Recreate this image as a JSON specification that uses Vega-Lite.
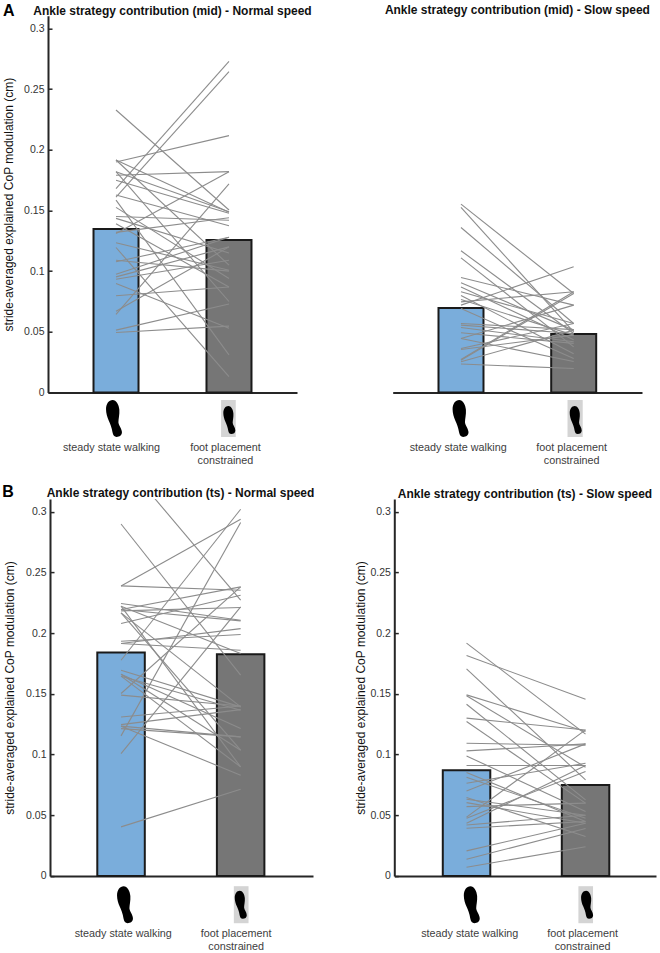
{"$schema":"https://vega.github.io/schema/vega-lite/v6.json","background":"white","padding":{"left":2,"top":2.7,"right":2,"bottom":2},"autosize":{"type":"pad"},"config":{"view":{"stroke":null},"font":"Liberation Sans","axis":{"grid":false,"domainColor":"#262626","domainWidth":2,"tickColor":"#262626","tickWidth":1.5,"tickSize":-4,"labelFont":"Liberation Sans","labelColor":"#333333","labelFontSize":10.5,"titleFont":"Liberation Sans","titleFontWeight":"normal","titleColor":"#111111","titleFontSize":12},"axisX":{"labelFontSize":10.8,"labelColor":"#404040"},"axisY":{"labelPadding":8},"title":{"font":"Liberation Sans","fontSize":12,"fontWeight":"bold","color":"#111111","anchor":"middle","offset":3}},
"datasets":{
"al":[{"s":1,"c":1,"v":0.2328},{"s":1,"c":2,"v":0.1504},{"s":2,"c":1,"v":0.168},{"s":2,"c":2,"v":0.273},{"s":3,"c":1,"v":0.161},{"s":3,"c":2,"v":0.2644},{"s":4,"c":1,"v":0.19},{"s":4,"c":2,"v":0.2117},{"s":5,"c":1,"v":0.179},{"s":5,"c":2,"v":0.182},{"s":6,"c":1,"v":0.1916},{"s":6,"c":2,"v":0.105},{"s":7,"c":1,"v":0.182},{"s":7,"c":2,"v":0.149},{"s":8,"c":1,"v":0.175},{"s":8,"c":2,"v":0.1477},{"s":9,"c":1,"v":0.1628},{"s":9,"c":2,"v":0.1375},{"s":10,"c":1,"v":0.1526},{"s":10,"c":2,"v":0.094},{"s":11,"c":1,"v":0.145},{"s":11,"c":2,"v":0.142},{"s":12,"c":1,"v":0.1435},{"s":12,"c":2,"v":0.115},{"s":13,"c":1,"v":0.182},{"s":13,"c":2,"v":0.075},{"s":14,"c":1,"v":0.139},{"s":14,"c":2,"v":0.087},{"s":15,"c":1,"v":0.131},{"s":15,"c":2,"v":0.182},{"s":16,"c":1,"v":0.1585},{"s":16,"c":2,"v":0.031},{"s":17,"c":1,"v":0.1195},{"s":17,"c":2,"v":0.013},{"s":18,"c":1,"v":0.1234},{"s":18,"c":2,"v":0.1008},{"s":19,"c":1,"v":0.0643},{"s":19,"c":2,"v":0.172},{"s":20,"c":1,"v":0.067},{"s":20,"c":2,"v":0.12},{"s":21,"c":1,"v":0.0514},{"s":21,"c":2,"v":0.073},{"s":22,"c":1,"v":0.0495},{"s":22,"c":2,"v":0.0547},{"s":23,"c":1,"v":0.0797},{"s":23,"c":2,"v":0.087},{"s":24,"c":1,"v":0.0898},{"s":24,"c":2,"v":0.053},{"s":25,"c":1,"v":0.0975},{"s":25,"c":2,"v":0.128},{"s":26,"c":1,"v":0.0953},{"s":26,"c":2,"v":0.12},{"s":27,"c":1,"v":0.0934},{"s":27,"c":2,"v":0.109},{"s":28,"c":1,"v":0.109},{"s":28,"c":2,"v":0.1},{"s":29,"c":1,"v":0.1077},{"s":29,"c":2,"v":0.128},{"s":30,"c":1,"v":0.132},{"s":30,"c":2,"v":0.144},{"s":31,"c":1,"v":0.1916},{"s":31,"c":2,"v":0.1485}],
"ar":[{"s":1,"c":1,"v":0.1552},{"s":1,"c":2,"v":0.0816},{"s":2,"c":1,"v":0.1525},{"s":2,"c":2,"v":0.05},{"s":3,"c":1,"v":0.136},{"s":3,"c":2,"v":0.0569},{"s":4,"c":1,"v":0.1168},{"s":4,"c":2,"v":0.0486},{"s":5,"c":1,"v":0.111},{"s":5,"c":2,"v":0.0376},{"s":6,"c":1,"v":0.0948},{"s":6,"c":2,"v":0.072},{"s":7,"c":1,"v":0.0904},{"s":7,"c":2,"v":0.0514},{"s":8,"c":1,"v":0.087},{"s":8,"c":2,"v":0.0435},{"s":9,"c":1,"v":0.083},{"s":9,"c":2,"v":0.0569},{"s":10,"c":1,"v":0.08},{"s":10,"c":2,"v":0.032},{"s":11,"c":1,"v":0.0766},{"s":11,"c":2,"v":0.0473},{"s":12,"c":1,"v":0.0747},{"s":12,"c":2,"v":0.083},{"s":13,"c":1,"v":0.072},{"s":13,"c":2,"v":0.1036},{"s":14,"c":1,"v":0.0692},{"s":14,"c":2,"v":0.028},{"s":15,"c":1,"v":0.0569},{"s":15,"c":2,"v":0.0518},{"s":16,"c":1,"v":0.0555},{"s":16,"c":2,"v":0.0486},{"s":17,"c":1,"v":0.0536},{"s":17,"c":2,"v":0.0418},{"s":18,"c":1,"v":0.0492},{"s":18,"c":2,"v":0.0405},{"s":19,"c":1,"v":0.0445},{"s":19,"c":2,"v":0.0255},{"s":20,"c":1,"v":0.0363},{"s":20,"c":2,"v":0.0569},{"s":21,"c":1,"v":0.0354},{"s":21,"c":2,"v":0.0473},{"s":22,"c":1,"v":0.0272},{"s":22,"c":2,"v":0.083},{"s":23,"c":1,"v":0.0253},{"s":23,"c":2,"v":0.0514},{"s":24,"c":1,"v":0.0235},{"s":24,"c":2,"v":0.0198},{"s":25,"c":1,"v":0.0266},{"s":25,"c":2,"v":0.0816},{"s":26,"c":1,"v":0.0445},{"s":26,"c":2,"v":0.072}],
"bl":[{"s":1,"c":1,"v":0.344},{"s":1,"c":2,"v":0.2272},{"s":2,"c":1,"v":0.29},{"s":2,"c":2,"v":0.1654},{"s":3,"c":1,"v":0.239},{"s":3,"c":2,"v":0.294},{"s":4,"c":1,"v":0.239},{"s":4,"c":2,"v":0.2354},{"s":5,"c":1,"v":0.2245},{"s":5,"c":2,"v":0.2107},{"s":6,"c":1,"v":0.2223},{"s":6,"c":2,"v":0.1832},{"s":7,"c":1,"v":0.2195},{"s":7,"c":2,"v":0.2382},{"s":8,"c":1,"v":0.2184},{"s":8,"c":2,"v":0.2212},{"s":9,"c":1,"v":0.2168},{"s":9,"c":2,"v":0.1393},{"s":10,"c":1,"v":0.208},{"s":10,"c":2,"v":0.2313},{"s":11,"c":1,"v":0.1934},{"s":11,"c":2,"v":0.1989},{"s":12,"c":1,"v":0.1915},{"s":12,"c":2,"v":0.2038},{"s":13,"c":1,"v":0.1777},{"s":13,"c":2,"v":0.3022},{"s":14,"c":1,"v":0.1695},{"s":14,"c":2,"v":0.1393},{"s":15,"c":1,"v":0.1662},{"s":15,"c":2,"v":0.1214},{"s":16,"c":1,"v":0.1646},{"s":16,"c":2,"v":0.1365},{"s":17,"c":1,"v":0.1503},{"s":17,"c":2,"v":0.2382},{"s":18,"c":1,"v":0.149},{"s":18,"c":2,"v":0.14},{"s":19,"c":1,"v":0.1154},{"s":19,"c":2,"v":0.2912},{"s":20,"c":1,"v":0.1008},{"s":20,"c":2,"v":0.2217},{"s":21,"c":1,"v":0.131},{"s":21,"c":2,"v":0.14},{"s":22,"c":1,"v":0.1247},{"s":22,"c":2,"v":0.137},{"s":23,"c":1,"v":0.1234},{"s":23,"c":2,"v":0.1146},{"s":24,"c":1,"v":0.1214},{"s":24,"c":2,"v":0.1146},{"s":25,"c":1,"v":0.1234},{"s":25,"c":2,"v":0.083},{"s":26,"c":1,"v":0.0404},{"s":26,"c":2,"v":0.0714},{"s":27,"c":1,"v":0.2168},{"s":27,"c":2,"v":0.1036},{"s":28,"c":1,"v":0.2223},{"s":28,"c":2,"v":0.0898},{"s":29,"c":1,"v":0.1662},{"s":29,"c":2,"v":0.1036},{"s":30,"c":1,"v":0.1646},{"s":30,"c":2,"v":0.0898},{"s":31,"c":1,"v":0.2195},{"s":31,"c":2,"v":0.2102},{"s":32,"c":1,"v":0.1915},{"s":32,"c":2,"v":0.186}],
"br":[{"s":1,"c":1,"v":0.1918},{"s":1,"c":2,"v":0.1168},{"s":2,"c":1,"v":0.1816},{"s":2,"c":2,"v":0.1456},{"s":3,"c":1,"v":0.1706},{"s":3,"c":2,"v":0.0791},{"s":4,"c":1,"v":0.1492},{"s":4,"c":2,"v":0.119},{"s":5,"c":1,"v":0.1484},{"s":5,"c":2,"v":0.0896},{"s":6,"c":1,"v":0.1415},{"s":6,"c":2,"v":0.0626},{"s":7,"c":1,"v":0.13},{"s":7,"c":2,"v":0.1203},{"s":8,"c":1,"v":0.1272},{"s":8,"c":2,"v":0.06},{"s":9,"c":1,"v":0.1093},{"s":9,"c":2,"v":0.1077},{"s":10,"c":1,"v":0.103},{"s":10,"c":2,"v":0.1088},{"s":11,"c":1,"v":0.0989},{"s":11,"c":2,"v":0.053},{"s":12,"c":1,"v":0.091},{"s":12,"c":2,"v":0.091},{"s":13,"c":1,"v":0.0852},{"s":13,"c":2,"v":0.0448},{"s":14,"c":1,"v":0.0813},{"s":14,"c":2,"v":0.0475},{"s":15,"c":1,"v":0.0764},{"s":15,"c":2,"v":0.0929},{"s":16,"c":1,"v":0.07},{"s":16,"c":2,"v":0.1088},{"s":17,"c":1,"v":0.0646},{"s":17,"c":2,"v":0.0324},{"s":18,"c":1,"v":0.0632},{"s":18,"c":2,"v":0.05},{"s":19,"c":1,"v":0.0604},{"s":19,"c":2,"v":0.0434},{"s":20,"c":1,"v":0.0571},{"s":20,"c":2,"v":0.06},{"s":21,"c":1,"v":0.0484},{"s":21,"c":2,"v":0.1203},{"s":22,"c":1,"v":0.0475},{"s":22,"c":2,"v":0.086},{"s":23,"c":1,"v":0.0434},{"s":23,"c":2,"v":0.091},{"s":24,"c":1,"v":0.042},{"s":24,"c":2,"v":0.05},{"s":25,"c":1,"v":0.0393},{"s":25,"c":2,"v":0.0448},{"s":26,"c":1,"v":0.0206},{"s":26,"c":2,"v":0.0434},{"s":27,"c":1,"v":0.0137},{"s":27,"c":2,"v":0.039},{"s":28,"c":1,"v":0.0071},{"s":28,"c":2,"v":0.024}]
},
"columns":2,"bounds":"flush","align":"all","spacing":{"row":106.4,"column":79},
"concat":[
{"title":{"text":"Ankle strategy contribution (mid) - Normal speed","dx":-8,"dy":18.3},"width":265,"height":376.8,
"layer":[
{"encoding":{"x":{"field":"c","type":"quantitative","scale":{"domain":[0.398,2.602],"range":[0,249],"nice":false,"zero":false,"padding":0},"axis":{"values":[1,2],"title":null,"labelPadding":53.5,"labelExpr":"datum.value==1?'steady state walking':['foot placement','constrained']","labelOffset":{"condition":{"test":"datum.value==1","value":-5},"value":-4}}},"y":{"field":"v","type":"quantitative","scale":{"domain":[0,0.31055],"nice":false,"zero":false},"axis":{"values":[0,0.05,0.1,0.15,0.2,0.25,0.3],"title":"stride-averaged explained CoP modulation (cm)","labelExpr":"datum.value==0?'0':format(datum.value,'~g')","titlePadding":8.5}}},
"layer":[
{"data":{"values":[{"c":1,"v":0.1347,"g":"steady"},{"c":2,"v":0.1257,"g":"fp"}]},"mark":{"type":"bar","width":45,"stroke":"#1a1a1a","strokeWidth":2},"encoding":{"color":{"field":"g","type":"nominal","scale":{"domain":["steady","fp"],"range":["#7aaddb","#767676"]},"legend":null}}},
{"data":{"name":"al"},"mark":{"type":"line","color":"#8c8c8c","strokeWidth":1.1,"clip":true},"encoding":{"detail":{"field":"s"}}}
]},
{"data":{"values":[{"g":"box"}]},"mark":{"type":"rect","fill":"#d4d4d4"},"encoding":{"x":{"datum":1.93,"type":"quantitative"},"x2":{"datum":2.06},"y":{"datum":-0.0062,"type":"quantitative"},"y2":{"datum":-0.0367}}},
{"data":{"values":[{"g":"foot"}]},"mark":{"type":"point","filled":true,"opacity":1,"color":"#000000","size":1369,"shape":"M-.07,-1 C.12,-1 .27,-.75 .29,-.47 C.31,-.2 .24,.02 .24,.2 C.24,.35 .43,.55 .43,.75 C.43,.92 .3,1 .14,1 C.02,1 -.05,.92 -.08,.75 C-.12,.5 -.2,.3 -.28,.12 C-.36,-.05 -.43,-.3 -.43,-.5 C-.43,-.8 -.28,-1 -.07,-1 Z"},"encoding":{"x":{"datum":0.982,"type":"quantitative"},"y":{"datum":-0.0214,"type":"quantitative"}}},
{"data":{"values":[{"g":"foot"}]},"mark":{"type":"point","filled":true,"opacity":1,"color":"#000000","size":784,"shape":"M-.07,-1 C.12,-1 .27,-.75 .29,-.47 C.31,-.2 .24,.02 .24,.2 C.24,.35 .43,.55 .43,.75 C.43,.92 .3,1 .14,1 C.02,1 -.05,.92 -.08,.75 C-.12,.5 -.2,.3 -.28,.12 C-.36,-.05 -.43,-.3 -.43,-.5 C-.43,-.8 -.28,-1 -.07,-1 Z"},"encoding":{"x":{"datum":2.003,"type":"quantitative"},"y":{"datum":-0.0227,"type":"quantitative"}}},
{"data":{"values":[{"t":"A"}]},"mark":{"type":"text","align":"left","baseline":"alphabetic","font":"Liberation Sans","fontWeight":"bold","fontSize":16,"color":"#000000"},"encoding":{"text":{"field":"t"},"x":{"datum":0,"type":"quantitative"},"y":{"datum":0.3103,"type":"quantitative"}}}
]},
{"title":{"text":"Ankle strategy contribution (mid) - Slow speed","dx":-6.6,"dy":4.3},"width":264,"height":376.8,
"layer":[
{"encoding":{"x":{"field":"c","type":"quantitative","scale":{"domain":[0.394,2.606],"range":[0.7,250],"nice":false,"zero":false,"padding":0},"axis":{"values":[1,2],"title":null,"labelPadding":53.5,"labelExpr":"datum.value==1?'steady state walking':['foot placement','constrained']","labelOffset":{"condition":{"test":"datum.value==1","value":-3.3},"value":-2.5}}},"y":{"field":"v","type":"quantitative","scale":{"domain":[0,0.31055],"nice":false,"zero":false},"axis":null}},
"layer":[
{"data":{"values":[{"c":1,"v":0.0697,"g":"steady"},{"c":2,"v":0.0482,"g":"fp"}]},"mark":{"type":"bar","width":45,"stroke":"#1a1a1a","strokeWidth":2},"encoding":{"color":{"field":"g","type":"nominal","scale":{"domain":["steady","fp"],"range":["#7aaddb","#767676"]},"legend":null}}},
{"data":{"name":"ar"},"mark":{"type":"line","color":"#8c8c8c","strokeWidth":1.1,"clip":true},"encoding":{"detail":{"field":"s"}}}
]},
{"data":{"values":[{"g":"box"}]},"mark":{"type":"rect","fill":"#d4d4d4"},"encoding":{"x":{"datum":1.945,"type":"quantitative"},"x2":{"datum":2.08},"y":{"datum":-0.0062,"type":"quantitative","axis":null},"y2":{"datum":-0.0367}}},
{"data":{"values":[{"g":"foot"}]},"mark":{"type":"point","filled":true,"opacity":1,"color":"#000000","size":1369,"shape":"M-.07,-1 C.12,-1 .27,-.75 .29,-.47 C.31,-.2 .24,.02 .24,.2 C.24,.35 .43,.55 .43,.75 C.43,.92 .3,1 .14,1 C.02,1 -.05,.92 -.08,.75 C-.12,.5 -.2,.3 -.28,.12 C-.36,-.05 -.43,-.3 -.43,-.5 C-.43,-.8 -.28,-1 -.07,-1 Z"},"encoding":{"x":{"datum":0.996,"type":"quantitative"},"y":{"datum":-0.0214,"type":"quantitative","axis":null}}},
{"data":{"values":[{"g":"foot"}]},"mark":{"type":"point","filled":true,"opacity":1,"color":"#000000","size":784,"shape":"M-.07,-1 C.12,-1 .27,-.75 .29,-.47 C.31,-.2 .24,.02 .24,.2 C.24,.35 .43,.55 .43,.75 C.43,.92 .3,1 .14,1 C.02,1 -.05,.92 -.08,.75 C-.12,.5 -.2,.3 -.28,.12 C-.36,-.05 -.43,-.3 -.43,-.5 C-.43,-.8 -.28,-1 -.07,-1 Z"},"encoding":{"x":{"datum":2.018,"type":"quantitative"},"y":{"datum":-0.0227,"type":"quantitative","axis":null}}}
]},
{"title":{"text":"Ankle strategy contribution (ts) - Normal speed","dx":0,"dy":18.8},"width":265,"height":376.8,
"layer":[
{"encoding":{"x":{"field":"c","type":"quantitative","scale":{"domain":[0.406,2.605],"range":[2,265],"nice":false,"zero":false,"padding":0},"axis":{"values":[1,2],"title":null,"labelPadding":55.5,"labelExpr":"datum.value==1?'steady state walking':['foot placement','constrained']","labelOffset":{"condition":{"test":"datum.value==1","value":1.7},"value":-5}}},"y":{"field":"v","type":"quantitative","scale":{"domain":[0,0.31055],"nice":false,"zero":false},"axis":{"values":[0,0.05,0.1,0.15,0.2,0.25,0.3],"offset":-2,"title":"stride-averaged explained CoP modulation (cm)","labelExpr":"datum.value==0?'0':format(datum.value,'~g')","titlePadding":9}}},
"layer":[
{"data":{"values":[{"c":1,"v":0.1841,"g":"steady"},{"c":2,"v":0.1826,"g":"fp"}]},"mark":{"type":"bar","width":47.5,"stroke":"#1a1a1a","strokeWidth":2},"encoding":{"color":{"field":"g","type":"nominal","scale":{"domain":["steady","fp"],"range":["#7aaddb","#767676"]},"legend":null}}},
{"data":{"name":"bl"},"mark":{"type":"line","color":"#8c8c8c","strokeWidth":1.1,"clip":true},"encoding":{"detail":{"field":"s"}}}
]},
{"data":{"values":[{"g":"box"}]},"mark":{"type":"rect","fill":"#d4d4d4"},"encoding":{"x":{"datum":1.943,"type":"quantitative"},"x2":{"datum":2.066},"y":{"datum":-0.0085,"type":"quantitative"},"y2":{"datum":-0.039}}},
{"data":{"values":[{"g":"foot"}]},"mark":{"type":"point","filled":true,"opacity":1,"color":"#000000","size":1369,"shape":"M-.07,-1 C.12,-1 .27,-.75 .29,-.47 C.31,-.2 .24,.02 .24,.2 C.24,.35 .43,.55 .43,.75 C.43,.92 .3,1 .14,1 C.02,1 -.05,.92 -.08,.75 C-.12,.5 -.2,.3 -.28,.12 C-.36,-.05 -.43,-.3 -.43,-.5 C-.43,-.8 -.28,-1 -.07,-1 Z"},"encoding":{"x":{"datum":1.033,"type":"quantitative"},"y":{"datum":-0.0237,"type":"quantitative"}}},
{"data":{"values":[{"g":"foot"}]},"mark":{"type":"point","filled":true,"opacity":1,"color":"#000000","size":784,"shape":"M-.07,-1 C.12,-1 .27,-.75 .29,-.47 C.31,-.2 .24,.02 .24,.2 C.24,.35 .43,.55 .43,.75 C.43,.92 .3,1 .14,1 C.02,1 -.05,.92 -.08,.75 C-.12,.5 -.2,.3 -.28,.12 C-.36,-.05 -.43,-.3 -.43,-.5 C-.43,-.8 -.28,-1 -.07,-1 Z"},"encoding":{"x":{"datum":2.001,"type":"quantitative"},"y":{"datum":-0.0237,"type":"quantitative"}}},
{"data":{"values":[{"t":"B"}]},"mark":{"type":"text","align":"left","baseline":"alphabetic","font":"Liberation Sans","fontWeight":"bold","fontSize":16,"color":"#000000"},"encoding":{"text":{"field":"t"},"x":{"datum":0.007,"type":"quantitative"},"y":{"datum":0.312,"type":"quantitative"}}}
]},
{"title":{"text":"Ankle strategy contribution (ts) - Slow speed","dx":1,"dy":4.8},"width":264,"height":376.8,
"layer":[
{"encoding":{"x":{"field":"c","type":"quantitative","scale":{"domain":[0.393,2.592],"range":[2.3,264],"nice":false,"zero":false,"padding":0},"axis":{"values":[1,2],"title":null,"labelPadding":55.5,"labelExpr":"datum.value==1?'steady state walking':['foot placement','constrained']","labelOffset":{"condition":{"test":"datum.value==1","value":2.7},"value":-3.5}}},"y":{"field":"v","type":"quantitative","scale":{"domain":[0,0.31055],"nice":false,"zero":false},"axis":{"values":[0,0.05,0.1,0.15,0.2,0.25,0.3],"offset":-2.3,"title":"stride-averaged explained CoP modulation (cm)","labelExpr":"datum.value==0?'0':format(datum.value,'~g')","titlePadding":2.5}}},
"layer":[
{"data":{"values":[{"c":1,"v":0.0871,"g":"steady"},{"c":2,"v":0.075,"g":"fp"}]},"mark":{"type":"bar","width":47.5,"stroke":"#1a1a1a","strokeWidth":2},"encoding":{"color":{"field":"g","type":"nominal","scale":{"domain":["steady","fp"],"range":["#7aaddb","#767676"]},"legend":null}}},
{"data":{"name":"br"},"mark":{"type":"line","color":"#8c8c8c","strokeWidth":1.1,"clip":true},"encoding":{"detail":{"field":"s"}}}
]},
{"data":{"values":[{"g":"box"}]},"mark":{"type":"rect","fill":"#d4d4d4"},"encoding":{"x":{"datum":1.94,"type":"quantitative"},"x2":{"datum":2.063},"y":{"datum":-0.0085,"type":"quantitative"},"y2":{"datum":-0.039}}},
{"data":{"values":[{"g":"foot"}]},"mark":{"type":"point","filled":true,"opacity":1,"color":"#000000","size":1369,"shape":"M-.07,-1 C.12,-1 .27,-.75 .29,-.47 C.31,-.2 .24,.02 .24,.2 C.24,.35 .43,.55 .43,.75 C.43,.92 .3,1 .14,1 C.02,1 -.05,.92 -.08,.75 C-.12,.5 -.2,.3 -.28,.12 C-.36,-.05 -.43,-.3 -.43,-.5 C-.43,-.8 -.28,-1 -.07,-1 Z"},"encoding":{"x":{"datum":1.044,"type":"quantitative"},"y":{"datum":-0.0237,"type":"quantitative"}}},
{"data":{"values":[{"g":"foot"}]},"mark":{"type":"point","filled":true,"opacity":1,"color":"#000000","size":784,"shape":"M-.07,-1 C.12,-1 .27,-.75 .29,-.47 C.31,-.2 .24,.02 .24,.2 C.24,.35 .43,.55 .43,.75 C.43,.92 .3,1 .14,1 C.02,1 -.05,.92 -.08,.75 C-.12,.5 -.2,.3 -.28,.12 C-.36,-.05 -.43,-.3 -.43,-.5 C-.43,-.8 -.28,-1 -.07,-1 Z"},"encoding":{"x":{"datum":2.013,"type":"quantitative"},"y":{"datum":-0.0237,"type":"quantitative"}}}
]}
]}
